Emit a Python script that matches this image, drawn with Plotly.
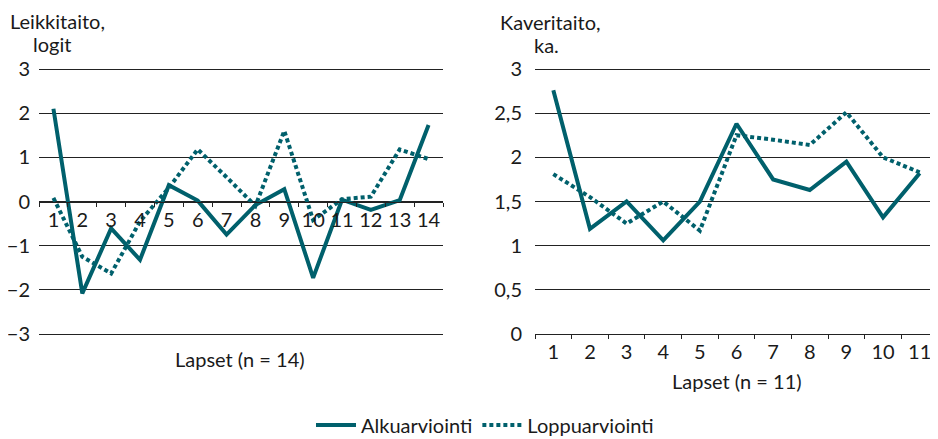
import plotly.graph_objects as go

# ---- data ----
left_cats = [str(i) for i in range(1, 15)]
left_alku = [2.10, -2.08, -0.61, -1.32, 0.37, 0.02, -0.75, -0.08, 0.28, -1.73, 0.04, -0.19, 0.03, 1.73]
left_loppu = [0.08, -1.25, -1.63, -0.45, 0.31, 1.18, 0.55, -0.10, 1.60, -0.42, 0.05, 0.11, 1.18, 0.96]

right_cats = [str(i) for i in range(1, 12)]
right_alku = [2.76, 1.19, 1.50, 1.06, 1.50, 2.38, 1.75, 1.63, 1.95, 1.32, 1.82]
right_loppu = [1.81, 1.55, 1.25, 1.50, 1.17, 2.25, 2.20, 2.14, 2.51, 2.00, 1.83]

left_yticks = [-3, -2, -1, 0, 1, 2, 3]
left_yticktext = ["−3", "−2", "−1", "0", "1", "2", "3"]
right_yticks = [0, 0.5, 1, 1.5, 2, 2.5, 3]
right_yticktext = ["0", "0,5", "1", "1,5", "2", "2,5", "3"]

series_names = ["Alkuarviointi", "Loppuarviointi"]

# ---- style ----
W, H = 938, 439
OX, OY = 8, 8   # page body margin offset
COLOR = "#00606c"
TXT = "#1a1a1a"
FONT = "Lato"
FS = 20
LW = 4
DOT = "4px,3px"

def px_x(p):
    return (p - OX) / W

def px_y(p):
    return 1 - (p - OY) / H

TOP, BOT = 69.0, 334.0  # pixel rows of top and bottom gridlines

L_EXT = 0.05
l_ppu = (BOT - TOP) / 6.0
l_dom = [px_y(BOT + L_EXT * l_ppu), px_y(TOP - L_EXT * l_ppu)]
l_zero = px_y((TOP + BOT) / 2)

R_EXT = 0.03
r_ppu = (BOT - TOP) / 3.0
r_dom = [px_y(BOT), px_y(TOP - R_EXT * r_ppu)]

fig = go.Figure()

fig.add_trace(go.Scatter(x=left_cats, y=left_alku, mode="lines", name=series_names[0],
                         line=dict(color=COLOR, width=LW), xaxis="x", yaxis="y"))
fig.add_trace(go.Scatter(x=left_cats, y=left_loppu, mode="lines", name=series_names[1],
                         line=dict(color=COLOR, width=LW, dash=DOT), xaxis="x", yaxis="y"))
fig.add_trace(go.Scatter(x=right_cats, y=right_alku, mode="lines", showlegend=False,
                         line=dict(color=COLOR, width=LW), xaxis="x2", yaxis="y2"))
fig.add_trace(go.Scatter(x=right_cats, y=right_loppu, mode="lines", showlegend=False,
                         line=dict(color=COLOR, width=LW, dash=DOT), xaxis="x2", yaxis="y2"))

axfont = dict(family=FONT, size=FS, color=TXT)

common_x = dict(type="category", tickangle=0, automargin=False,
                showline=True, linecolor="#222", linewidth=1,
                ticks="outside", tickson="boundaries", ticklen=4, tickcolor="#222",
                showgrid=False, zeroline=False, tickfont=axfont)
common_y = dict(automargin=False, showgrid=True, gridcolor="#222", gridwidth=1,
                zeroline=False, showline=False, ticks="", tickfont=axfont)

fig.update_layout(
    template="none",
    width=W, height=H, autosize=False,
    margin=dict(l=0, r=0, t=0, b=0, pad=0, autoexpand=False),
    paper_bgcolor="white", plot_bgcolor="white",
    font=axfont,
    xaxis=dict(domain=[px_x(39), px_x(443)], anchor="free", position=l_zero,
               range=[-0.5, len(left_cats) - 0.5], **common_x),
    yaxis=dict(domain=l_dom, range=[-3 - L_EXT, 3 + L_EXT], tickvals=left_yticks,
               ticktext=left_yticktext, ticklabelstandoff=8, **common_y),
    xaxis2=dict(domain=[px_x(535), px_x(938)], anchor="y2",
                range=[-0.5, len(right_cats) - 0.5], **common_x),
    yaxis2=dict(domain=r_dom, range=[0, 3 + R_EXT], anchor="x2", tickvals=right_yticks,
                ticktext=right_yticktext, ticklabelstandoff=12, **common_y),
    legend=dict(orientation="h", x=px_x(485), xanchor="center", y=px_y(425), yanchor="middle",
                font=axfont, itemwidth=40, bgcolor="rgba(0,0,0,0)", borderwidth=0),
    showlegend=True,
)

annos = [
    dict(text="Leikkitaito,", x=px_x(57), y=px_y(21)),
    dict(text="logit", x=px_x(52), y=px_y(44.5)),
    dict(text="Kaveritaito,", x=px_x(550), y=px_y(22)),
    dict(text="ka.", x=px_x(546), y=px_y(45.5)),
    dict(text="Lapset (n = 14)", x=px_x(240), y=px_y(359)),
    dict(text="Lapset (n = 11)", x=px_x(737), y=px_y(381)),
]
for a in annos:
    fig.add_annotation(xref="paper", yref="paper", showarrow=False, align="center",
                       xanchor="center", yanchor="middle", borderpad=0, font=axfont, **a)

fig.write_html("out.html")
